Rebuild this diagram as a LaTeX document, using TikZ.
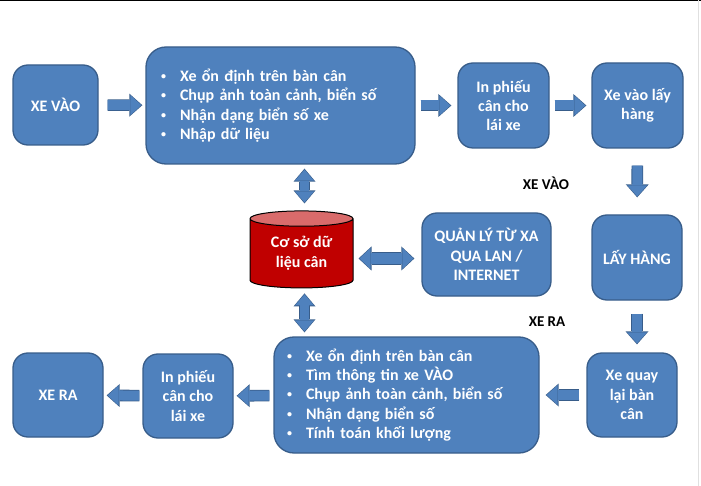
\documentclass[tikz,border=0pt]{standalone}
\usepackage{fontspec}
\setmainfont{Carlito}
\usetikzlibrary{arrows.meta,shapes.geometric,calc}
\definecolor{boxblue}{HTML}{4F81BD}
\definecolor{boxline}{HTML}{385D8A}
\definecolor{dbred}{HTML}{C00000}
\definecolor{dbtop}{HTML}{D96B6B}
\newcommand{\boxfont}{\fontsize{16}{19.4}\selectfont\bfseries}
\newcommand{\itm}[1]{\makebox[19pt][l]{\raisebox{2pt}{\fontsize{10}{10}\selectfont\textbullet}}#1}
\tikzset{
	box/.style={draw=boxline, fill=boxblue, line width=1.3pt, rounded corners=15pt, text=white, font=\boxfont, align=center, inner sep=0pt},
	listbox/.style={box, rounded corners=20pt, align=left, text width=239pt, inner ysep=0pt},
	fatarrow/.style={draw=boxblue, line width=10pt, -{Triangle[length=11pt,width=20pt,line width=0pt,sep=1pt]},
		preaction={draw=boxline, line width=11.6pt, -{Triangle[length=13pt,width=23pt,line width=0pt]}}},
	fatboth/.style={draw=boxblue, line width=9pt, {Triangle[length=11pt,width=19pt,line width=0pt,sep=1pt]}-{Triangle[length=11pt,width=19pt,line width=0pt,sep=1pt]},
		preaction={draw=boxline, line width=10.6pt, {Triangle[length=13pt,width=22pt,line width=0pt]}-{Triangle[length=13pt,width=22pt,line width=0pt]}}},
	widerboth/.style={draw=boxblue, line width=11pt, {Triangle[length=11pt,width=21pt,line width=0pt,sep=1pt]}-{Triangle[length=11pt,width=21pt,line width=0pt,sep=1pt]},
		preaction={draw=boxline, line width=12.6pt, {Triangle[length=13pt,width=24pt,line width=0pt]}-{Triangle[length=13pt,width=24pt,line width=0pt]}}},
	sidelabel/.style={font=\fontsize{15}{18}\selectfont\bfseries}
}
\begin{document}
\begin{tikzpicture}[x=1pt,y=-1pt]
	\useasboundingbox (0,0) rectangle (701,486);
	\draw[black, line width=1.5pt] (0,0.75) -- (701,0.75);
	\draw[black!12, line width=1pt] (698.5,0) -- (698.5,486);

	% top row
	\node (xevao)[box, minimum width=85pt, minimum height=80pt] at (55.5,105) {XE VÀO};
	\node (nhap)[listbox, inner xsep=15pt, minimum height=117pt] at (280.5,105.5) {\itm{Xe ổn định trên bàn cân}\\ \itm{Chụp ảnh toàn cảnh, biển số}\\ \itm{Nhận dạng biển số xe}\\ \itm{Nhập dữ liệu}};
	\node (phieu1)[box, minimum width=91pt, minimum height=85pt] at (503.5,105.5) {In phiếu\\cân cho\\lái xe};
	\node (vaolay)[box, minimum width=91pt, minimum height=85pt] at (637.5,105.5) {Xe vào lấy\\hàng};

	% right column
	\node (layhang)[box, minimum width=90pt, minimum height=85pt] at (637,257.5) {LẤY HÀNG};
	\node (quaylai)[box, minimum width=90pt, minimum height=84pt] at (632,395) {Xe quay\\lại bàn\\cân};
	\node (lblvao)[sidelabel] at (546,183) {XE VÀO};
	\node (lblra)[sidelabel] at (547,322) {XE RA};

	% middle
	\node (db)[cylinder, shape border rotate=90, draw=black, line width=1pt, aspect=0.25, minimum width=103pt, minimum height=77pt, cylinder uses custom fill, cylinder body fill=dbred, cylinder end fill=dbtop, text=white, font=\boxfont, inner sep=0pt] at (301.5,253.5) {\raisebox{-4pt}{\begin{tabular}{@{}c@{}}Cơ sở dữ\\liệu cân\end{tabular}}};
	\node (quanly)[box, minimum width=129pt, minimum height=83pt] at (486.5,254.5) {QUẢN LÝ TỪ XA\\QUA LAN /\\INTERNET};

	% bottom row
	\node (ra)[listbox, inner xsep=13pt, minimum height=116pt] at (406.5,395) {\itm{Xe ổn định trên bàn cân}\\ \itm{Tìm thông tin xe VÀO}\\ \itm{Chụp ảnh toàn cảnh, biển số}\\ \itm{Nhận dạng biển số}\\ \itm{Tính toán khối lượng}};
	\node (phieu2)[box, minimum width=90pt, minimum height=84pt] at (188,396) {In phiếu\\cân cho\\lái xe};
	\node (xera)[box, minimum width=90pt, minimum height=84pt] at (58,395) {XE RA};

	\draw[fatarrow, shorten <=9pt, shorten >=3pt] (xevao) -- (nhap);
	\draw[fatarrow, shorten <=5pt, shorten >=6pt] (nhap) -- (phieu1);
	\draw[fatarrow, shorten <=5pt, shorten >=5pt] (phieu1) -- (vaolay);
	\draw[fatarrow, shorten <=17pt, shorten >=17pt] (vaolay) -- (layhang);
	\draw[fatarrow, shorten <=13pt, shorten >=8pt] (layhang.south) -- (layhang.south |- quaylai.north);
	\draw[fatarrow, shorten <=7pt, shorten >=6pt] (quaylai) -- (ra);
	\draw[fatarrow, shorten <=4pt, shorten >=3pt] (ra) -- (phieu2);
	\draw[fatarrow, shorten <=3pt, shorten >=3pt] (phieu2) -- (xera);

	\draw[fatboth, shorten <=4pt, shorten >=7pt] ([xshift=3pt]db.north |- nhap.south) -- ([xshift=3pt]db.north);
	\draw[fatboth, shorten <=5pt, shorten >=4pt] ([xshift=3pt]db.south) -- ([xshift=3pt]db.south |- ra.north);
	\draw[widerboth, shorten <=5pt, shorten >=7pt] ([yshift=-5pt]db.east) -- ([yshift=-5pt]db.east -| quanly.west);

\end{tikzpicture}
\end{document}
